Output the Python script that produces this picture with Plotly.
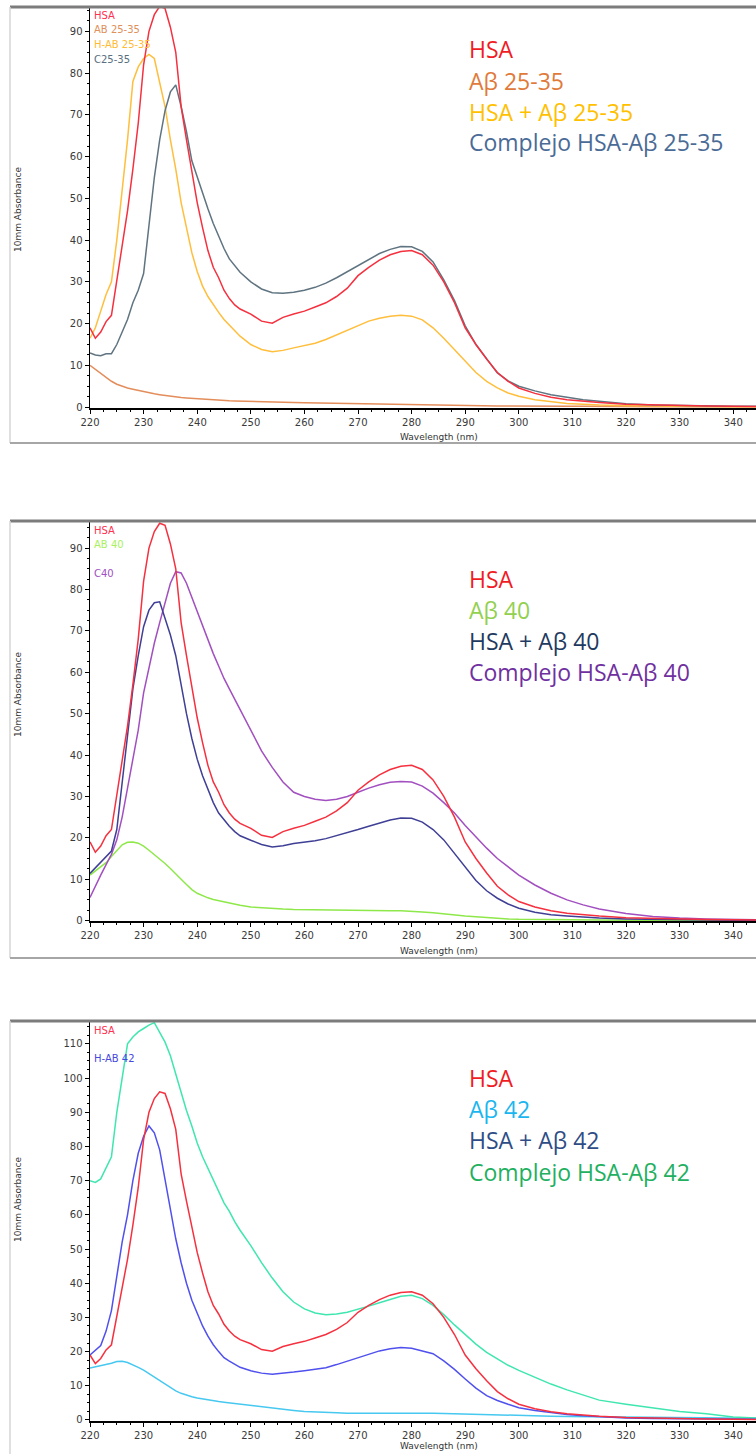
import plotly.graph_objects as go

W, H = 756, 1454

# ---------------- data (wavelength grid in nm, absorbance values) ----------------
GRID_NM = (list(range(220, 249)) + list(range(250, 301, 2))
           + [303, 306, 309, 312, 315] + [320, 325, 330, 335, 340, 344.3])

ABS_HSA = [19, 16.5, 18, 20.5, 22, 30, 38, 47, 57, 68, 82, 90, 94, 96, 95.5, 91, 85, 72, 64, 56,
           49, 43, 37.5, 33.5, 31, 28, 26, 24.5, 23.5,
           22.3, 20.6, 20.1, 21.5, 22.3, 23, 24, 25, 26.5, 28.5, 31.5, 33.5, 35.2, 36.5, 37.3, 37.5,
           36.5, 34, 30, 25, 19, 15, 11.5, 8.3, 6.2, 4.6,
           3.3, 2.4, 1.8, 1.4, 1.1,
           0.7, 0.5, 0.35, 0.25, 0.2, 0.15]

ABS_AB2535 = [10, 9, 8, 7, 6.2, 5.5, 5, 4.6, 4.3, 4, 3.7, 3.5, 3.2, 3, 2.8, 2.6, 2.4, 2.3, 2.2, 2.1,
              2, 1.9, 1.8, 1.75, 1.7, 1.6, 1.55, 1.5, 1.45,
              1.4, 1.3, 1.2, 1.15, 1.1, 1.05, 1, 0.95, 0.9, 0.85, 0.8, 0.75, 0.7, 0.7, 0.65, 0.6,
              0.6, 0.55, 0.5, 0.5, 0.45, 0.4, 0.35, 0.3, 0.3, 0.25,
              0.25, 0.2, 0.2, 0.2, 0.15,
              0.15, 0.1, 0.1, 0.1, 0.1, 0.1]

ABS_H_AB2535 = [16.5, 19, 23, 27, 30, 40, 52, 64, 78, 81.5, 83.5, 84.5, 83.5, 78, 72, 64, 57, 49, 43, 37,
                32.5, 29, 26.5, 24.5, 22.7, 21, 19.6, 18.3, 17,
                15, 13.8, 13.3, 13.6, 14.2, 14.8, 15.3, 16.2, 17.3, 18.5, 19.6, 20.6, 21.3, 21.8, 22, 21.8,
                20.9, 19, 16.5, 13.7, 11, 8.3, 6.2, 4.6, 3.4, 2.6,
                1.8, 1.3, 0.9, 0.7, 0.5,
                0.35, 0.25, 0.2, 0.15, 0.1, 0.1]

ABS_C2535 = [13, 12.5, 12.3, 12.8, 12.8, 15, 18, 21, 25, 28, 32, 43, 55, 64, 71, 75.5, 77.2, 72, 66, 59,
             55, 51, 47.5, 44, 41, 38, 35.5, 33.8, 32.3,
             30, 28.3, 27.4, 27.3, 27.5, 28, 28.7, 29.7, 31, 32.5, 34, 35.5, 36.8, 37.8, 38.5, 38.4,
             37.3, 34.8, 30.5, 25.5, 19.5, 15, 11.5, 8.2, 6.3, 5,
             3.9, 3, 2.4, 1.8, 1.4,
             0.8, 0.5, 0.35, 0.25, 0.2, 0.2]

ABS_AB40 = [11, 12, 13, 14, 15.5, 17, 18.3, 18.9, 19, 18.7, 18, 17, 16, 15, 13.8, 12.6, 11.4, 10, 8.7, 7.5,
            6.6, 6, 5.5, 5.1, 4.8, 4.5, 4.2, 3.9, 3.7,
            3.3, 3.1, 2.9, 2.8, 2.7, 2.65, 2.6, 2.6, 2.55, 2.5, 2.5, 2.45, 2.45, 2.4, 2.4, 2.3,
            2.1, 1.9, 1.6, 1.35, 1.1, 0.9, 0.7, 0.55, 0.4, 0.3,
            0.25, 0.2, 0.15, 0.15, 0.1,
            0.1, 0.1, 0.1, 0.1, 0.1, 0.1]

ABS_H_AB40 = [11.4, 12.7, 14, 15.3, 16.8, 22, 33, 45, 56, 64, 71, 75, 76.8, 77, 73, 69, 64, 57, 50, 44,
              39, 35, 31.5, 28.5, 26, 24.3, 22.8, 21.5, 20.5,
              19.4, 18.4, 17.8, 18.1, 18.6, 18.9, 19.3, 19.8, 20.5, 21.3, 22, 22.8, 23.6, 24.3, 24.8, 24.7,
              23.8, 22, 19.5, 16.2, 12.8, 9.7, 7.2, 5.4, 4, 3,
              2, 1.4, 1.1, 0.8, 0.6,
              0.4, 0.3, 0.2, 0.15, 0.1, 0.1]

ABS_C40 = [5.6, 8.5, 11, 13.5, 16, 19.5, 25, 32, 39, 46, 55, 61, 67, 72, 77, 81.5, 84.3, 84, 81.5, 78,
           75, 71.5, 68, 64.5, 61.5, 58.5, 56, 53.5, 51,
           46, 41, 37, 33.5, 31, 30, 29.3, 29, 29.3, 30, 31, 32, 32.8, 33.4, 33.6, 33.5,
           32.5, 30.8, 28.5, 26, 23, 20.2, 17.5, 15, 13, 11,
           8.6, 6.6, 5, 3.8, 2.8,
           1.7, 1, 0.6, 0.4, 0.3, 0.2]

ABS_AB42 = [15.2, 15.5, 15.8, 16.2, 16.6, 17.1, 17.2, 16.8, 16.2, 15.4, 14.6, 13.6, 12.5, 11.4, 10.4, 9.4,
            8.5, 7.8, 7.2, 6.8, 6.4, 6.1, 5.8, 5.6, 5.4, 5.2, 5, 4.8, 4.6,
            4.2, 3.8, 3.4, 3, 2.8, 2.5, 2.3, 2.2, 2.1, 2, 2, 2, 2.1, 2.1, 2.2, 2.2,
            2.1, 2, 1.9, 1.8, 1.7, 1.6, 1.5, 1.45, 1.35, 1.3,
            1.2, 1.1, 1.05, 1, 0.95,
            0.85, 0.75, 0.65, 0.6, 0.55, 0.5]

ABS_H_AB42 = [19, 20.3, 21.8, 26, 32, 42, 52, 60, 70, 78, 83, 86, 84, 79, 70, 61, 53, 46, 40, 35,
              31, 27.5, 24.5, 22, 20, 18.2, 17.2, 16.2, 15.4,
              14.4, 13.7, 13.4, 13.6, 14, 14.4, 14.9, 15.3, 16.2, 17.2, 18.3, 19.3, 20.2, 20.8, 21.2, 21,
              20.3, 19.4, 17.3, 14.8, 12, 9.3, 7.1, 5.7, 4.6, 3.6,
              2.8, 2.1, 1.6, 1.2, 0.9,
              0.6, 0.45, 0.35, 0.3, 0.25, 0.2]

ABS_C42 = [70, 69.5, 70.5, 74, 77, 90, 100, 110, 112, 113.5, 114.5, 115.5, 116.2, 113.5, 110.5, 106.5,
           101, 96, 90.5, 86, 81, 77, 73.5, 70, 66.5, 63.5, 61, 58, 55.5,
           51, 46, 41.5, 37.5, 34.5, 32.5, 31.3, 30.8, 31, 31.5, 32.3, 33.3, 34.3, 35.3, 36.2, 36.5,
           35.5, 33.5, 30.8, 27.8, 25, 22.2, 19.8, 17.8, 16, 14.5,
           12.5, 10.5, 8.8, 7.2, 5.8,
           4.6, 3.6, 2.5, 1.8, 0.9, 0.6]

X_TICKS = list(range(220, 341, 10))
Y_TICKS_40 = list(range(0, 91, 10))
Y_TICKS_42 = list(range(0, 111, 10))

# ---------------- styling ----------------
C_HSA = "#f5303f"

panels = [
    dict(top=8, bottom=408, yr=[-0.2, 95.6], yt=Y_TICKS_40,
         frame=(7, 443), ytitle=210, xtitle=437,
         series=[(ABS_AB2535, "#e38d5b"), (ABS_H_AB2535, "#ffbe3c"),
                 (ABS_C2535, "#5f7480"), (ABS_HSA, C_HSA)],
         inline=[("HSA", "#ff3050", 15), ("AB 25-35", "#e0905a", 30),
                 ("H-AB 25-35", "#ffbb33", 44), ("C25-35", "#587080", 59)],
         legend=[("HSA", "#f01c24", 49), ("Aβ 25-35", "#e07a3a", 81),
                 ("HSA + Aβ 25-35", "#ffc000", 112), ("Complejo HSA-Aβ 25-35", "#4a6b96", 142)]),
    dict(top=522, bottom=921, yr=[-0.1, 96.3], yt=Y_TICKS_40,
         frame=(521, 958), ytitle=695, xtitle=951,
         series=[(ABS_AB40, "#8ee84a"), (ABS_C40, "#a24fc0"),
                 (ABS_H_AB40, "#3f3f96"), (ABS_HSA, C_HSA)],
         inline=[("HSA", "#ff3050", 531), ("AB 40", "#a8f060", 544), ("C40", "#a050c0", 573)],
         legend=[("HSA", "#f01c24", 579), ("Aβ 40", "#92d050", 610),
                 ("HSA + Aβ 40", "#1f3a60", 641), ("Complejo HSA-Aβ 40", "#7030a0", 672)]),
    dict(top=1022, bottom=1421, yr=[-0.3, 116.4], yt=Y_TICKS_42,
         frame=(1021, None), ytitle=1200, xtitle=1446,
         series=[(ABS_AB42, "#46c8f0"), (ABS_C42, "#3fe6b0"),
                 (ABS_H_AB42, "#5050ee"), (ABS_HSA, C_HSA)],
         inline=[("HSA", "#ff3050", 1030), ("H-AB 42", "#4848e0", 1058)],
         legend=[("HSA", "#f01c24", 1078), ("Aβ 42", "#1ab6ef", 1109),
                 ("HSA + Aβ 42", "#2e4d86", 1140), ("Complejo HSA-Aβ 42", "#22b060", 1172)]),
]


def py(p):
    return 1 - p / H


def px(p):
    return p / W


fig = go.Figure()
layout = dict(width=W, height=H, margin=dict(l=0, r=0, t=0, b=0, autoexpand=False),
              paper_bgcolor="white", plot_bgcolor="white", showlegend=False)
annotations, shapes = [], []
tickfont = dict(family="DejaVu Sans", size=10, color="#3a3a3a")

for i, p in enumerate(panels):
    n = "" if i == 0 else str(i + 1)
    xa, ya = "xaxis" + n, "yaxis" + n
    for vals, col in p["series"]:
        fig.add_trace(go.Scatter(x=GRID_NM, y=vals, mode="lines",
                                 line=dict(color=col, width=1.5),
                                 xaxis="x" + n, yaxis="y" + n, hoverinfo="skip"))
    layout[xa] = dict(domain=[px(90), 1], range=[220, 344.25], anchor="y" + n, automargin=False,
                      tickvals=X_TICKS, ticks="outside", ticklen=4, tickcolor="black",
                      showline=True, linecolor="black", linewidth=1.5, showgrid=False,
                      zeroline=False, tickfont=tickfont,
                      minor=dict(dtick=2.5, tick0=220, ticks="outside", ticklen=2,
                                 tickcolor="black", showgrid=False))
    layout[ya] = dict(domain=[py(p["bottom"]), py(p["top"])], range=p["yr"], anchor="x" + n,
                      automargin=False,
                      tickvals=p["yt"], ticks="outside", ticklen=4, tickcolor="black",
                      showline=True, linecolor="black", linewidth=1.5, showgrid=False,
                      zeroline=False, tickfont=tickfont,
                      minor=dict(dtick=2.5, tick0=0, ticks="outside", ticklen=2,
                                 tickcolor="black", showgrid=False))
    # inline series labels
    for txt, col, yy in p["inline"]:
        annotations.append(dict(text=txt, x=px(92), y=py(yy), xref="paper", yref="paper",
                                xanchor="left", yanchor="middle", showarrow=False,
                                font=dict(family="DejaVu Sans", size=10, color=col)))
    # big legend text
    for txt, col, yy in p["legend"]:
        annotations.append(dict(text=txt, x=px(467), y=py(yy), xref="paper", yref="paper",
                                xanchor="left", yanchor="middle", showarrow=False,
                                font=dict(family="Open Sans", size=23, color=col)))
    # axis titles
    annotations.append(dict(text="Wavelength (nm)", x=px(439), y=py(p["xtitle"]), xref="paper",
                            yref="paper", xanchor="center", yanchor="middle", showarrow=False,
                            font=dict(family="DejaVu Sans", size=9, color="#333")))
    annotations.append(dict(text="10mm Absorbance", x=px(18), y=py(p["ytitle"]), xref="paper",
                            yref="paper", xanchor="center", yanchor="middle", showarrow=False,
                            textangle=-90, font=dict(family="DejaVu Sans", size=9, color="#333")))
    # frame
    ftop, fbot = p["frame"]
    shapes.append(dict(type="line", xref="paper", yref="paper", x0=px(10), x1=1,
                       y0=py(ftop), y1=py(ftop), line=dict(color="#7c7c7c", width=3)))
    shapes.append(dict(type="line", xref="paper", yref="paper", x0=px(10), x1=px(10),
                       y0=py(ftop), y1=py(fbot if fbot else H), line=dict(color="#d6d6d6", width=1.5)))
    if fbot:
        shapes.append(dict(type="line", xref="paper", yref="paper", x0=px(10), x1=1,
                           y0=py(fbot), y1=py(fbot), line=dict(color="#a6a6a6", width=2)))

layout["annotations"] = annotations
layout["shapes"] = shapes
fig.update_layout(**layout)
fig.write_html("out.html", config={"displayModeBar": False, "staticPlot": True},
               post_script="document.body.style.margin='0';document.body.style.overflow='hidden';")
